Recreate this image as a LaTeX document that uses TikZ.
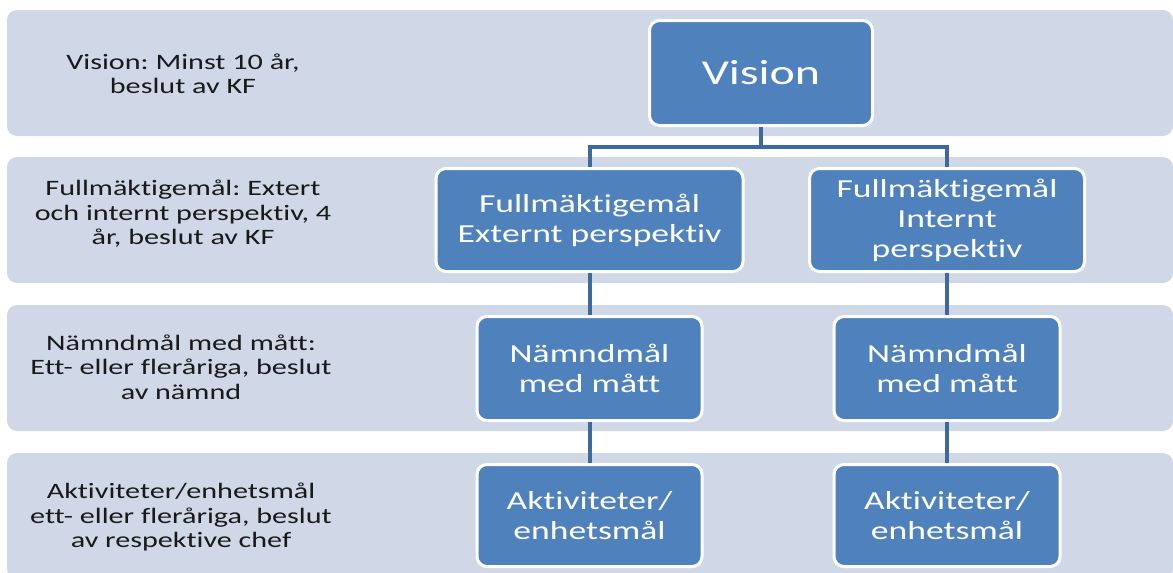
\documentclass[tikz,border=0pt]{standalone}
\usepackage{fontspec}
\setmainfont{Carlito}[FakeStretch=1.37, Ligatures=NoCommon]
\frenchspacing
\usetikzlibrary{positioning,calc}
\definecolor{bandfill}{RGB}{208,216,232}
\definecolor{goalfill}{RGB}{79,129,189}
\definecolor{linkcol}{RGB}{62,106,155}
\tikzset{
  band/.style={fill=bandfill, rounded corners=10pt},
  goal/.style={draw=white, line width=3pt, fill=goalfill, rounded corners=10pt, text=white, align=center, inner sep=0pt, minimum height=103pt, font=\fontsize{26}{30}\selectfont},
  lvltext/.style={align=center, text=black!90, font=\fontsize{22}{24.5}\selectfont},
  link/.style={draw=linkcol, line width=4pt}
}
\begin{document}
\begin{tikzpicture}[x=1pt,y=-1pt]
\useasboundingbox (0,0) rectangle (1173,573);
\clip (0,0) rectangle (1173,573);
% levels
\foreach \top in {10,157,305,453}
  \fill[band] (7,\top) rectangle (1173,\top+126);
\node[lvltext] (t1) at (183,74) {Vision: Minst 10 år,\\beslut av KF};
\node[lvltext] (t2) at (183,214) {Fullmäktigemål: Extert\\och internt perspektiv, 4\\år, beslut av KF};
\node[lvltext] (t3) at (181,367) {Nämndmål med mått:\\Ett- eller fleråriga, beslut\\av nämnd};
\node[lvltext] (t4) at (181,517) {Aktiviteter/enhetsmål\\ett- eller fleråriga, beslut\\av respektive chef};
% goal boxes
\node[goal, minimum width=223pt, minimum height=105pt, font=\fontsize{35}{40}\selectfont] (vision) at (761,73) {Vision};
\node[goal, minimum width=307pt] (fext) at (589.5,220) {Fullmäktigemål\\Externt perspektiv};
\node[goal, minimum width=275pt] (fint) at (947,220) {Fullmäktigemål\\Internt\\perspektiv};
\node[goal, minimum width=225pt, minimum height=104pt] (next) at (589.5,368.5) {Nämndmål\\med mått};
\node[goal, minimum width=226pt, minimum height=104pt] (nint) at (947,368.5) {Nämndmål\\med mått};
\node[goal, minimum width=225pt, minimum height=102pt] (aext) at (589.5,515.5) {Aktiviteter/\\enhetsmål};
\node[goal, minimum width=226pt, minimum height=102pt] (aint) at (947,515.5) {Aktiviteter/\\enhetsmål};
% connectors
\coordinate (bar) at ($(vision.south)+(0,20)$);
\draw[link] (vision.south) -- (bar);
\draw[link] (bar) -| (fext.north);
\draw[link] (bar) -| (fint.north);
\draw[link] (fext.south) -- (next.north);
\draw[link] (fint.south) -- (nint.north);
\draw[link] (next.south) -- (aext.north);
\draw[link] (nint.south) -- (aint.north);
\end{tikzpicture}
\end{document}
